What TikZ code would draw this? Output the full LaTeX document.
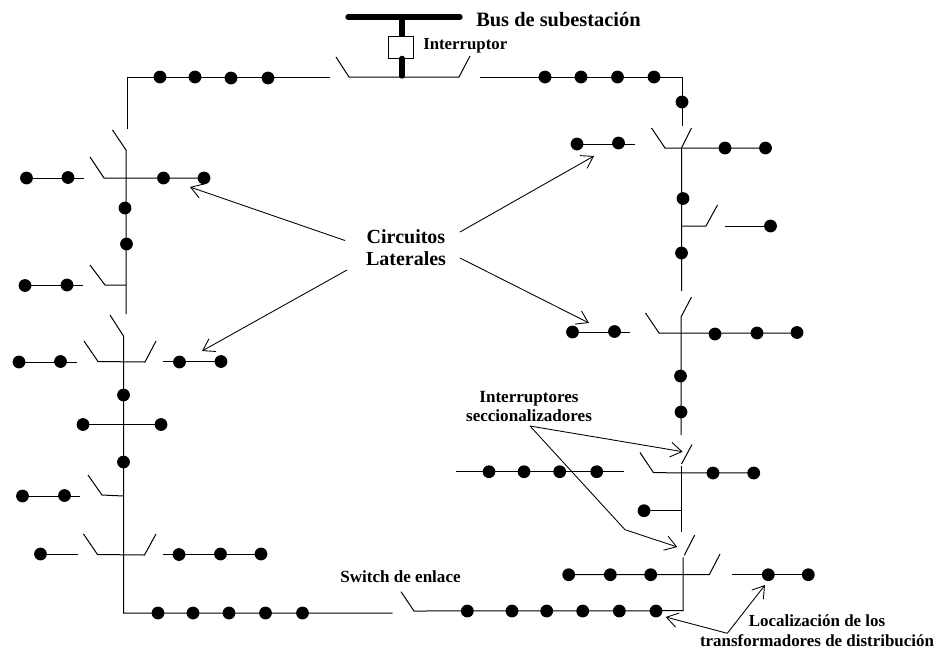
\documentclass[tikz,border=0pt]{standalone}
\usepackage{fontspec}
\setmainfont{Liberation Serif}
\usetikzlibrary{arrows.meta}
\newcommand{\fsz}[2]{\fontsize{#1}{#2}\selectfont}
\tikzset{
  x=0.75pt,y=-0.75pt,
  wire/.style={line width=0.75pt,line join=miter},
  heavy/.style={line width=4pt,line cap=round},
  callout/.style={line width=0.65pt,-{Straight Barb[length=8.5pt,width=11pt,line width=0.65pt]}},
  dot/.style={circle,fill=black,draw=none,inner sep=0pt,minimum size=9.6pt},
  lblbase/.style={align=center,inner sep=0pt},
}
\newcommand{\dotsat}[1]{\foreach \px/\py in {#1}{\node[dot] at (\px,\py) {};}}
\begin{document}
\begin{tikzpicture}
\useasboundingbox (0,0) rectangle (942,651);
% substation
\draw[heavy] (348,17) -- (460,17);
\node[draw,line width=0.6pt,minimum width=19pt,minimum height=16.5pt,inner sep=0pt] (brk) at (401,47) {};
\draw[line width=4pt] (402,17) -- (brk.north -| 402,0);
\draw[line width=4pt,line cap=round] (brk.south -| 402,0) -- (402,76);
\draw[wire] (336,57) -- (349,77) -- (459,77) -- (470,56);
% top feeders
\draw[wire] (127,129) -- (127,77) -- (330,77);
\draw[wire] (480,77) -- (682,77) -- (682,126);
\dotsat{160/77,195/77,231/78,268/78,545/77,581/77,617.5/77,654/77,682/102}
% left upper
\draw[wire] (112.5,130) -- (126,150) -- (126,314);
\draw[wire] (90,157) -- (104,178) -- (204,178);
\draw[wire] (84,178) -- (26,178);
\draw[wire] (90,265) -- (105,285) -- (126,285);
\draw[wire] (83,285) -- (25,285);
\dotsat{26.5/178,68/177.5,163.5/178,204/178,125/208,126.5/244,25/285.5,67/285}
% left lower
\draw[wire] (110,315) -- (123.5,336) -- (123.5,613) -- (392.7,613);
\draw[wire] (84,341) -- (98,361.5) -- (145,362) -- (156,341);
\draw[wire] (77,362) -- (19,362);
\draw[wire] (163,361) -- (221,361);
\draw[wire] (83,424.5) -- (161,424.5);
\draw[wire] (88,475) -- (102,495) -- (123.5,496);
\draw[wire] (80,496) -- (22,496);
\draw[wire] (83.5,534) -- (97.5,554.5) -- (144.5,555) -- (156,534);
\draw[wire] (78,554.5) -- (40,554.5);
\draw[wire] (163,554) -- (261,554);
\dotsat{19/362,60.5/361.5,179.5/362,221/361.5,123.5/395,83/424.5,161/424.5,123.5/462,22.5/496,64.5/495.5,40.5/554,179/554.5,220.5/554,261/554,158/613,193/613,229/613,265.5/613,302.5/613}
% right upper
\draw[wire] (651.5,128) -- (665,148) -- (765,148);
\draw[wire] (691.5,128) -- (681.5,148) -- (681.5,291);
\draw[wire] (681.5,226) -- (706,226) -- (717.5,205);
\draw[wire] (725,226) -- (770,226);
\draw[wire] (635,144) -- (577,144);
\dotsat{725/148,765.5/148,683/198.5,681.5/253,770.5/226,577/144,618.5/143}
% right middle
\draw[wire] (691.5,297) -- (681,317) -- (681,435);
\draw[wire] (645.5,313) -- (659,333) -- (797,333);
\draw[wire] (630,332) -- (572,332);
\dotsat{715/334,757/333,797/332.5,572.5/332,614.5/331.5,680.5/376,681/412}
% right lower
\draw[wire] (692,444.5) -- (681.5,464);
\draw[wire] (681.5,466) -- (681.5,532);
\draw[wire] (640,452.5) -- (653.5,472.7) -- (754,473);
\draw[wire] (455.7,471.7) -- (624,471.7);
\draw[wire] (644,510.7) -- (681.5,510.7);
\dotsat{489/471.7,524/471.7,559.7/471.7,596.7/471.7,713/473,753.7/473,644/510.7}
% bottom right
\draw[wire] (694.7,535) -- (684.3,555.3);
\draw[wire] (683,557.3) -- (683,610.7) -- (414,611) -- (401,591.7);
\draw[wire] (568.7,574.7) -- (709.3,574.7) -- (720,554);
\draw[wire] (732.3,574.7) -- (808,574.7);
\dotsat{467.3/611,512/611,546.7/611,582.7/611,619.3/611,656/611,568.7/574.7,610.3/574.7,650.7/574.7,768.3/574.7,808.3/574.7}
% labels
\node[lblbase,anchor=west,font=\bfseries\fsz{15.3}{18}] (bus) at (476,20) {Bus de subestación};
\node[lblbase,anchor=west,font=\bfseries\fsz{12.6}{15}] (intr) at (423,46) {Interruptor};
\node[lblbase,font=\bfseries\fsz{15}{16.5}] (cl) at (406,248) {Circuitos\\Laterales};
\node[lblbase,font=\bfseries\fsz{12.8}{14.3}] (is) at (529,406.5) {Interruptores\\seccionalizadores};
\node[lblbase,anchor=west,font=\bfseries\fsz{12.8}{14}] (sw) at (340,577) {Switch de enlace};
\node[lblbase,font=\bfseries\fsz{12.7}{15}] (loc) at (817,631) {Localización de los\\transformadores de distribución};
% callouts
\coordinate (c1) at (345,240.5);
\coordinate (c2) at (347,270);
\coordinate (c3) at (460,232);
\coordinate (c4) at (460,258);
\coordinate (t1) at (190,187);
\coordinate (t2) at (202,351);
\coordinate (t3) at (594,156);
\coordinate (t4) at (589,323);
\draw[callout] (c1) -- (t1);
\draw[callout] (c2) -- (t2);
\draw[callout] (c3) -- (t3);
\draw[callout] (c4) -- (t4);
\coordinate (s0) at (530,426);
\coordinate (s1) at (625,529.7);
\coordinate (s2) at (682.7,451.7);
\coordinate (s3) at (677.3,547);
\draw[callout] (s0) -- (s2);
\draw[callout] (s0) -- (s1) -- (s3);
\coordinate (l0) at (727.3,633.3);
\coordinate (l1) at (765,585);
\coordinate (l2) at (665.7,617);
\draw[callout] (l0) -- (l1);
\draw[callout] (l0) -- (l2);
\end{tikzpicture}
\end{document}
